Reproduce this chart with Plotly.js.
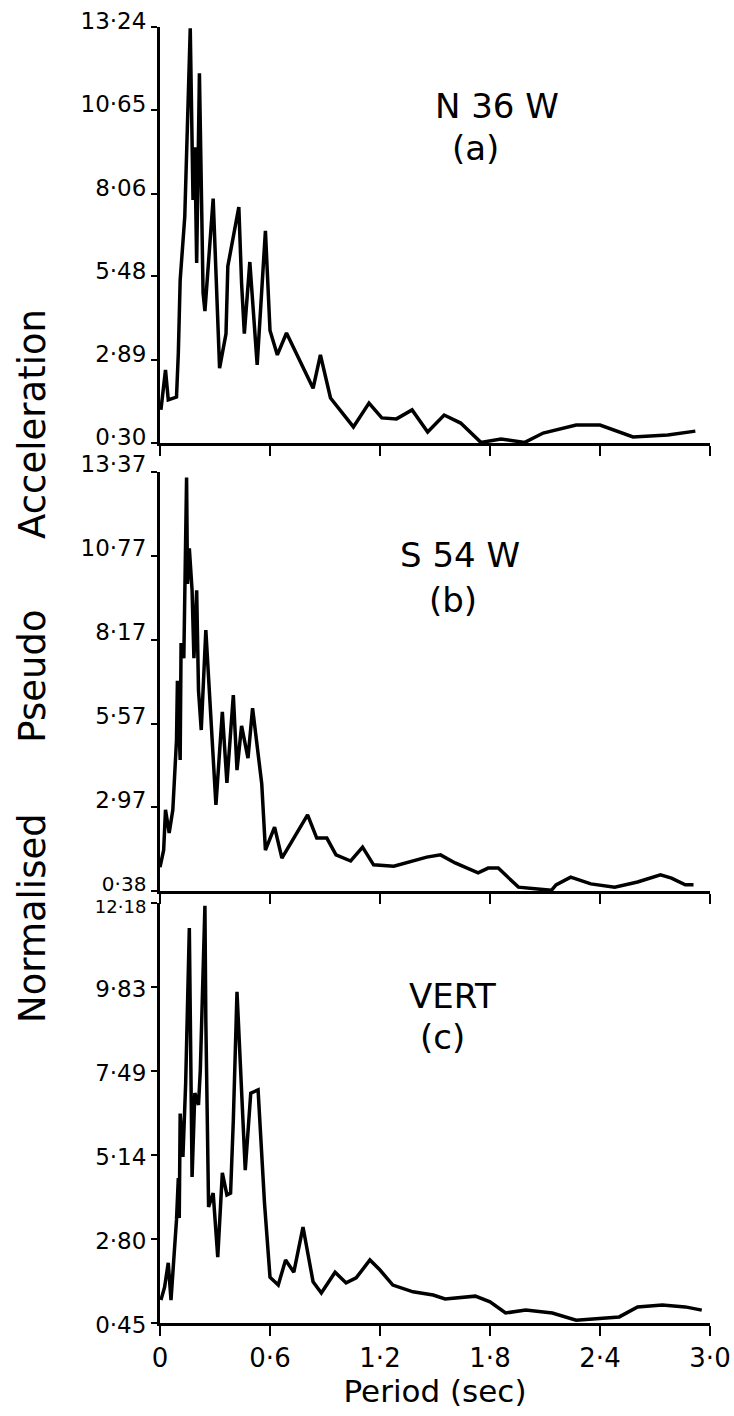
<!DOCTYPE html>
<html>
<head>
<meta charset="utf-8">
<script src="https://cdn.plot.ly/plotly-3.0.1.min.js"></script>
<style>html,body{margin:0;padding:0;background:#fff;}#chart{width:734px;height:1416px;}</style>
</head>
<body>
<div id="chart"></div>
<script>
// ---- data ----
const periodA = [0.005,0.03,0.045,0.09,0.10,0.11,0.135,0.15,0.165,0.18,0.19,0.20,0.215,0.235,0.245,0.29,0.325,0.36,0.37,0.43,0.445,0.46,0.49,0.53,0.575,0.60,0.64,0.69,0.835,0.875,0.93,1.055,1.14,1.21,1.29,1.375,1.46,1.55,1.64,1.75,1.86,1.99,2.09,2.27,2.40,2.58,2.77,2.92];
const accA    = [1.33,2.57,1.64,1.73,3.1,5.37,7.33,9.94,13.2,7.86,9.5,5.9,11.8,4.97,4.4,7.9,2.63,3.7,5.8,7.64,5.27,3.7,5.93,2.73,6.9,3.8,3.04,3.72,2.0,3.04,1.70,0.80,1.54,1.08,1.05,1.33,0.64,1.17,0.92,0.32,0.42,0.32,0.61,0.86,0.86,0.49,0.55,0.67];

const periodB = [0,0.02,0.03,0.05,0.07,0.09,0.095,0.11,0.115,0.13,0.145,0.15,0.16,0.175,0.185,0.20,0.21,0.225,0.25,0.305,0.34,0.365,0.40,0.42,0.445,0.48,0.505,0.52,0.555,0.575,0.625,0.665,0.805,0.855,0.91,0.96,1.04,1.105,1.165,1.275,1.355,1.455,1.53,1.61,1.735,1.79,1.845,1.955,2.135,2.16,2.24,2.35,2.48,2.605,2.73,2.79,2.865,2.91];
const accB    = [1.12,1.65,2.9,2.18,2.9,5.06,6.9,4.44,8.07,7.6,13.2,9.9,11.0,9.7,7.6,9.7,6.6,5.37,8.47,3.05,5.93,3.73,6.45,4.13,5.5,4.5,6.05,5.4,3.7,1.65,2.36,1.40,2.74,2.02,2.02,1.5,1.31,1.74,1.19,1.15,1.28,1.43,1.50,1.25,0.94,1.09,1.09,0.50,0.40,0.57,0.81,0.60,0.50,0.66,0.88,0.78,0.57,0.57];

const periodC = [0.005,0.025,0.045,0.06,0.09,0.10,0.105,0.11,0.125,0.14,0.16,0.175,0.19,0.21,0.22,0.245,0.25,0.265,0.29,0.315,0.34,0.365,0.385,0.40,0.42,0.435,0.465,0.495,0.535,0.57,0.60,0.645,0.685,0.73,0.78,0.835,0.88,0.955,1.015,1.07,1.145,1.20,1.27,1.38,1.49,1.555,1.72,1.80,1.885,1.995,2.14,2.27,2.415,2.505,2.605,2.74,2.865,2.955];
const accC    = [1.09,1.45,2.13,1.09,3.33,4.5,3.38,6.3,5.09,7.15,11.48,4.53,6.87,6.54,7.52,12.1,8.9,3.69,4.08,2.29,4.64,4.03,4.08,6.12,9.7,7.88,4.72,6.87,6.96,3.8,1.73,1.51,2.21,1.87,3.13,1.6,1.29,1.87,1.57,1.71,2.21,1.93,1.51,1.32,1.23,1.12,1.2,1.04,0.73,0.81,0.73,0.53,0.59,0.62,0.9,0.95,0.9,0.81];

const yTicksA = [0.30,2.89,5.48,8.06,10.65,13.24];
const yTicksB = [0.38,2.97,5.57,8.17,10.77,13.37];
const yTicksC = [0.45,2.80,5.14,7.49,9.83,12.18];
const xTicks  = [0,0.6,1.2,1.8,2.4,3.0];

const panelNames = ["N 36 W","S 54 W","VERT"];
const panelTags  = ["(a)","(b)","(c)"];
const yTitleWords = ["Normalised","Pseudo","Acceleration"];

// ---- helpers ----
const fmt = (v, d) => v.toFixed(d).replace('.', '\u00B7');
const yText = arr => arr.map(v => fmt(v, 2));
const xText = xTicks.map(v => v === 0 ? '0' : fmt(v, 1));
const small = (t, s) => '<span style="font-size:' + s + 'px">' + t + '</span>';

const FONT = 'DejaVu Sans, Liberation Sans, sans-serif';
const line = {color:'#000', width:3.5};

const traces = [
  {x: periodA, y: accA, xaxis:'x', yaxis:'y', mode:'lines', line: line, hoverinfo:'skip'},
  {x: periodB, y: accB, xaxis:'x2', yaxis:'y2', mode:'lines', line: line, hoverinfo:'skip'},
  {x: periodC, y: accC, xaxis:'x3', yaxis:'y3', mode:'lines', line: line, hoverinfo:'skip'}
];

function xAx(anchor, showLabels) {
  return {
    anchor: anchor, range:[0,3.0], domain:[0,1],
    showline:true, linecolor:'#000', linewidth:3, mirror:false,
    showgrid:false, zeroline:false,
    ticks:'outside', ticklen:10, tickwidth:2, tickcolor:'#000',
    tickvals: xTicks, ticktext: xText, showticklabels: showLabels,
    ticklabeloverflow:'allow',
    tickfont:{family:FONT, size:26, color:'#000'}
  };
}
function yAx(anchor, dom, ticks, shift, texts) {
  return {
    anchor: anchor, domain: dom, range:[ticks[0], ticks[ticks.length-1]],
    showline:true, linecolor:'#000', linewidth:3,
    showgrid:false, zeroline:false,
    ticks:'outside', ticklen:6, tickwidth:2, tickcolor:'#000',
    tickvals: ticks, ticktext: texts,
    ticklabelshift: shift, ticklabeloverflow:'allow',
    tickfont:{family:FONT, size:23, color:'#000'}
  };
}

const H = 1296; // plot height in px (1416 - t - b)
const W = 550;  // plot width in px (734 - l - r)
const dom = (top, bot) => [(1323 - bot)/H, (1323 - top)/H];
const py = p => (1323 - p)/H;  // pixel y -> paper
const px = p => (p - 160)/W;   // pixel x -> paper

const ann = (text, x, y, size) => ({
  text: text, xref:'paper', yref:'paper', x: px(x), y: py(y),
  xanchor:'center', yanchor:'middle', showarrow:false,
  font:{family:FONT, size:size, color:'#000'}
});

const textsA = yText(yTicksA);
const textsB = yText(yTicksB);
textsB[0] = small(textsB[0], 20);
const textsC = yText(yTicksC);
textsC[textsC.length-1] = small(textsC[textsC.length-1], 18);

const NB = '\u00A0'.repeat(6);

const layout = {
  width:734, height:1416,
  margin:{l:160, r:24, t:27, b:93},
  paper_bgcolor:'#fff', plot_bgcolor:'#fff',
  showlegend:false,
  xaxis: xAx('y', false),
  xaxis2: xAx('y2', false),
  xaxis3: Object.assign(xAx('y3', true), {
    title:{text:'Period (sec)', font:{family:FONT, size:31, color:'#000'}, standoff:8}
  }),
  yaxis: yAx('x', dom(27, 443), yTicksA, -6, textsA),
  yaxis2: yAx('x2', dom(472, 891), yTicksB, -8, textsB),
  yaxis3: yAx('x3', dom(903, 1323), yTicksC, 2, textsC),
  annotations: [
    ann(panelNames[0], 497, 106, 34), ann(panelTags[0], 475, 148, 34),
    ann(panelNames[1], 460, 555, 34), ann(panelTags[1], 453, 600, 34),
    ann(panelNames[2], 452, 996, 34), ann(panelTags[2], 442, 1037, 34),
    Object.assign(ann(yTitleWords.join(NB), 32, 666, 37), {textangle:-90})
  ]
};

Plotly.newPlot('chart', traces, layout, {staticPlot:true, displayModeBar:false});
</script>
</body>
</html>
